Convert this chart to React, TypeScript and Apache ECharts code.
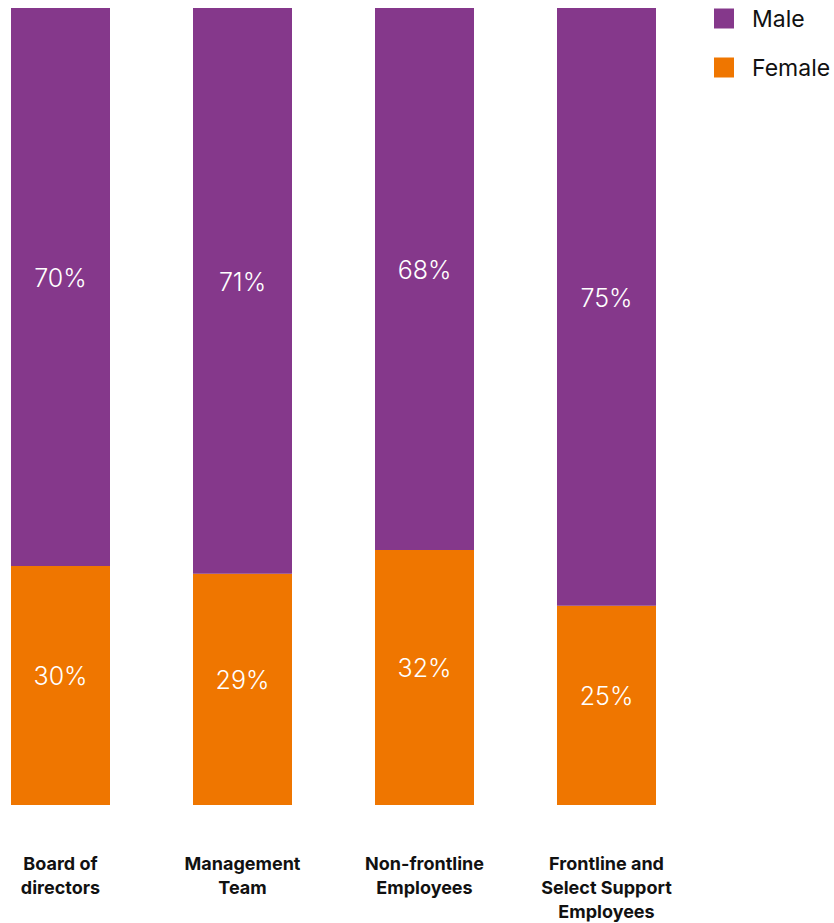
import React, { useEffect, useRef } from "react";
import * as echarts from "echarts";

const categories = [
  "Board of\ndirectors",
  "Management\nTeam",
  "Non-frontline\nEmployees",
  "Frontline and\nSelect Support\nEmployees",
];
const femaleValues = [30, 29, 32, 25];
const maleValues = [70, 71, 68, 75];
const seriesNames = ["Male", "Female"];

const PURPLE = "#85388B";
const ORANGE = "#EF7600";
const FONT = "Inter, 'Liberation Sans', Arial, sans-serif";

export default function App() {
  const ref = useRef<HTMLDivElement>(null);
  useEffect(() => {
    if (!ref.current) return;
    const chart = echarts.init(ref.current, undefined, { renderer: "svg" });
    const label = {
      show: true,
      position: "inside" as const,
      offset: [0, -9],
      color: "#ffffff",
      fontSize: 25,
      fontWeight: 300,
      fontFamily: FONT,
      formatter: "{c}%",
    };
    chart.setOption({
      animation: false,
      textStyle: { fontFamily: FONT },
      legend: {
        data: seriesNames,
        orient: "vertical",
        left: 714,
        top: 7,
        padding: 0,
        itemWidth: 20,
        itemHeight: 20,
        itemGap: 26,
        icon: "rect",
        textStyle: { fontSize: 23, color: "#111111", fontFamily: FONT, padding: [0, 0, 0, 13] },
      },
      grid: { left: 60.5, width: 546, top: 8, height: 800 },
      xAxis: {
        type: "category",
        data: categories,
        boundaryGap: false,
        axisLine: { show: false },
        axisTick: { show: false },
        axisLabel: {
          interval: 0,
          margin: 46,
          fontSize: 18,
          fontWeight: "bold",
          color: "#111111",
          lineHeight: 24,
          fontFamily: FONT,
          verticalAlign: "top",
        },
      },
      yAxis: {
        type: "value",
        min: 0,
        max: 100,
        show: false,
        splitLine: { show: false },
      },
      series: [
        {
          name: "Female",
          type: "bar",
          stack: "total",
          data: femaleValues,
          barWidth: 99,
          itemStyle: { color: ORANGE },
          label,
        },
        {
          name: "Male",
          type: "bar",
          stack: "total",
          data: maleValues,
          barWidth: 99,
          itemStyle: { color: PURPLE },
          label,
        },
      ],
    });
    return () => chart.dispose();
  }, []);
  return (
    <div
      ref={ref}
      style={{ position: "absolute", left: 0, top: 0, width: 834, height: 923 }}
    />
  );
}
